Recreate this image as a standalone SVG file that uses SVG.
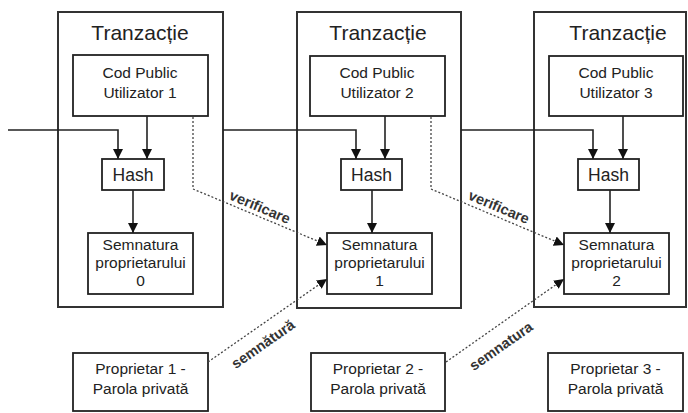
<svg xmlns="http://www.w3.org/2000/svg" width="688" height="413" viewBox="0 0 688 413">
<style>
.tx{fill:none;stroke:#333;stroke-width:2}
.bx{fill:#fff;stroke:#222;stroke-width:1.8}
.t{font-family:"Liberation Sans",Arial,sans-serif;fill:#222;text-anchor:middle}
.title{font-size:21px}
.s{font-size:15.5px}
.h{font-size:17.5px}
.lbl{font-size:14.5px;font-weight:bold;fill:#333}
.ln{fill:none;stroke:#222;stroke-width:1.6}
.dl{fill:none;stroke:#444;stroke-width:1.3;stroke-dasharray:2 2}
</style>
<defs>
<marker id="ah" markerUnits="userSpaceOnUse" markerWidth="10" markerHeight="10" refX="10" refY="5" orient="auto">
<path d="M0,0 L10,5 L0,10 z" fill="#111"/>
</marker>
</defs>
<rect width="688" height="413" fill="#fff"/>

<g id="tx1">
<rect class="tx" x="58" y="12" width="165" height="295"/>
<text class="t title" x="140" y="40">Tranzacție</text>
</g>
<g id="tx2">
<rect class="tx" x="297" y="12" width="164" height="296"/>
<text class="t title" x="378" y="40">Tranzacție</text>
</g>
<g id="tx3">
<rect class="tx" x="534" y="12" width="152" height="295"/>
<text class="t title" x="618" y="40">Tranzacție</text>
</g>

<g id="cod1">
<rect class="bx" x="73" y="55" width="135" height="61"/>
<text class="t s" x="140" y="78">Cod Public</text>
<text class="t s" x="140" y="98">Utilizator 1</text>
</g>
<g id="cod2">
<rect class="bx" x="310" y="56" width="135" height="60"/>
<text class="t s" x="377" y="78">Cod Public</text>
<text class="t s" x="377" y="98">Utilizator 2</text>
</g>
<g id="cod3">
<rect class="bx" x="549" y="56" width="134" height="60"/>
<text class="t s" x="616" y="78">Cod Public</text>
<text class="t s" x="616" y="98">Utilizator 3</text>
</g>

<g id="hash1">
<rect class="bx" x="102" y="159" width="62" height="31"/>
<text class="t h" x="133" y="181">Hash</text>
</g>
<g id="hash2">
<rect class="bx" x="341" y="159" width="61" height="31"/>
<text class="t h" x="371.5" y="181">Hash</text>
</g>
<g id="hash3">
<rect class="bx" x="578" y="159" width="61" height="31"/>
<text class="t h" x="608.5" y="181">Hash</text>
</g>

<g id="sem0">
<rect class="bx" x="88" y="233" width="105" height="61"/>
<text class="t s" x="140.5" y="250">Semnatura</text>
<text class="t s" x="140.5" y="268">proprietarului</text>
<text class="t s" x="140.5" y="286">0</text>
</g>
<g id="sem1">
<rect class="bx" x="327" y="233" width="105" height="61"/>
<text class="t s" x="379.5" y="250">Semnatura</text>
<text class="t s" x="379.5" y="268">proprietarului</text>
<text class="t s" x="379.5" y="286">1</text>
</g>
<g id="sem2">
<rect class="bx" x="564" y="233" width="105" height="61"/>
<text class="t s" x="616.5" y="250">Semnatura</text>
<text class="t s" x="616.5" y="268">proprietarului</text>
<text class="t s" x="616.5" y="286">2</text>
</g>

<g id="prop1">
<rect class="bx" x="73" y="353" width="135" height="58"/>
<text class="t s" x="140.5" y="374">Proprietar 1 -</text>
<text class="t s" x="140.5" y="394">Parola privată</text>
</g>
<g id="prop2">
<rect class="bx" x="311" y="353" width="134" height="58"/>
<text class="t s" x="378" y="374">Proprietar 2 -</text>
<text class="t s" x="378" y="394">Parola privată</text>
</g>
<g id="prop3">
<rect class="bx" x="548" y="353" width="135" height="58"/>
<text class="t s" x="615.5" y="374">Proprietar 3 -</text>
<text class="t s" x="615.5" y="394">Parola privată</text>
</g>

<g id="connectors">
<path class="ln" d="M8,130 H118 V159" marker-end="url(#ah)"/>
<path class="ln" d="M147,116 V159" marker-end="url(#ah)"/>
<path class="ln" d="M133,190 V233" marker-end="url(#ah)"/>
<path class="ln" d="M223,130 H356 V159" marker-end="url(#ah)"/>
<path class="ln" d="M385,116 V159" marker-end="url(#ah)"/>
<path class="ln" d="M372,190 V233" marker-end="url(#ah)"/>
<path class="ln" d="M461,130 H593 V159" marker-end="url(#ah)"/>
<path class="ln" d="M623,116 V159" marker-end="url(#ah)"/>
<path class="ln" d="M610,190 V233" marker-end="url(#ah)"/>

<path class="dl" d="M193,117 V189 L327,245" marker-end="url(#ah)"/>
<path class="dl" d="M431,117 V189 L564,245" marker-end="url(#ah)"/>
<path class="dl" d="M208,362 L327,279" marker-end="url(#ah)"/>
<path class="dl" d="M446,362 L564,279" marker-end="url(#ah)"/>

<text class="t lbl" transform="translate(260,207) rotate(23)" y="5">verificare</text>
<text class="t lbl" transform="translate(499,207) rotate(23)" y="5">verificare</text>
<text class="t lbl" transform="translate(263,344) rotate(-35)" y="5">semnătură</text>
<text class="t lbl" transform="translate(501,346) rotate(-35)" y="5">semnatura</text>
</g>
</svg>
